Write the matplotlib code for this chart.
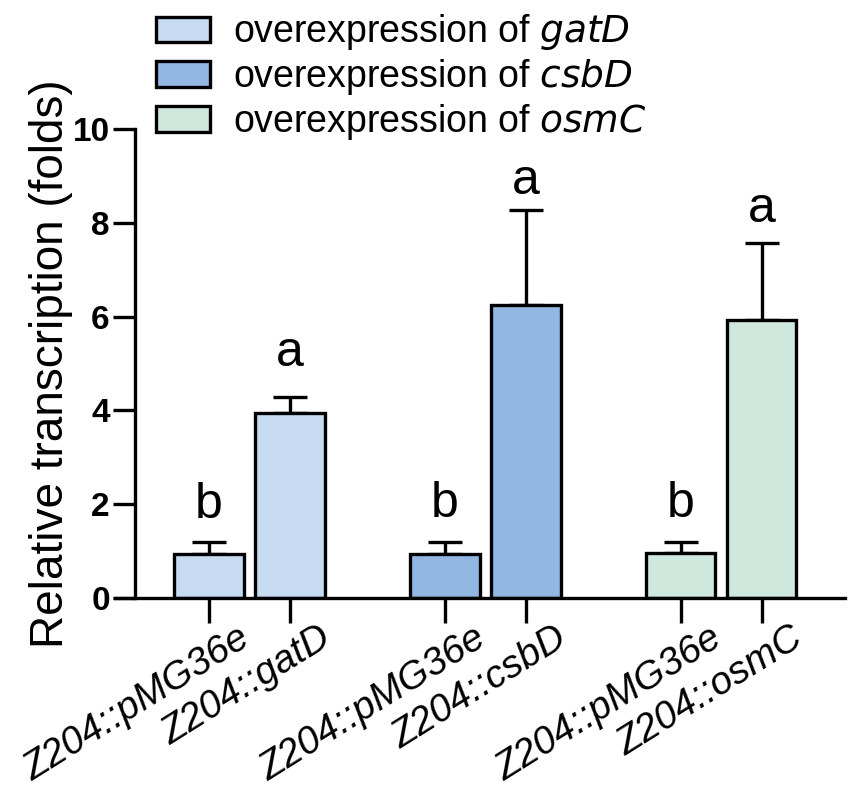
import numpy as np
import matplotlib
matplotlib.use("Agg")
import matplotlib.pyplot as plt
import matplotlib.transforms as mtransforms
from matplotlib.patches import Patch

plt.rcParams['font.family'] = ['Liberation Sans', 'DejaVu Sans']

# data
genes = ['gatD', 'csbD', 'osmC']
labels = ['Z204::pMG36e', 'Z204::gatD', 'Z204::pMG36e', 'Z204::csbD', 'Z204::pMG36e', 'Z204::osmC']
means = [0.95, 3.95, 0.95, 6.25, 0.97, 5.92]
errs = [0.24, 0.34, 0.25, 2.02, 0.23, 1.64]
letters = ['b', 'a', 'b', 'a', 'b', 'a']
letter_y = [1.7, 4.95, 1.72, 8.62, 1.72, 8.02]
colors = ['#c6daf1', '#92b7e3', '#cfe8de']

# layout
pair_gap = 1.0
group_gap = 2.91
xs = []
for g in range(len(genes)):
    xs += [g * group_gap, g * group_gap + pair_gap]
bar_colors = [c for c in colors for _ in range(2)]

fig = plt.figure(figsize=(8.51, 7.89), dpi=100)
ax = fig.add_axes([0.135, 0.242, 0.858, 0.5945])

lw = 2.4
ax.bar(xs, means, width=0.86, color=bar_colors, edgecolor='black', linewidth=lw, zorder=2)
ax.errorbar(xs, means, yerr=[np.zeros(len(errs)), errs], fmt='none', ecolor='black',
            elinewidth=lw, capsize=12, capthick=lw, zorder=1)

for x, y, t in zip(xs, letter_y, letters):
    ax.text(x, y, t, ha='center', va='baseline', fontsize=36)

ax.set_xlim(-1.16, 7.85)
ax.set_ylim(0, 10)
ax.set_yticks([0, 2, 4, 6, 8, 10])
ax.spines['top'].set_visible(False)
ax.spines['right'].set_visible(False)
ax.spines['left'].set_position(('data', -0.914))
ax.spines['left'].set_linewidth(lw)
ax.spines['bottom'].set_linewidth(lw)
ax.tick_params(axis='y', length=16, width=lw, labelsize=24, direction='out', pad=2)
ax.tick_params(axis='x', length=18, width=lw, labelsize=28, direction='out', pad=2)
for t in ax.get_yticklabels():
    t.set_fontweight('bold')

ax.set_xticks(xs)
ax.set_xticklabels(labels, rotation=32, ha='right', rotation_mode='anchor', style='italic')
offset = mtransforms.ScaledTranslation(0.29, 0.06, fig.dpi_scale_trans)
for t in ax.get_xticklabels():
    t.set_transform(t.get_transform() + offset)

ax.set_ylabel('Relative transcription (folds)', fontsize=33)
ax.yaxis.set_label_coords(-0.057, 0.5)

handles = [Patch(facecolor=c, edgecolor='black', linewidth=lw) for c in colors]
leg_labels = ['overexpression of $\\it{' + g + '}$' for g in genes]
fig.legend(handles, leg_labels, loc='upper left', bbox_to_anchor=(0.161, 1.008),
           frameon=False, fontsize=27, handlelength=1.45, handleheight=0.67,
           handletextpad=0.6, labelspacing=0.13, borderaxespad=0.1)

fig.savefig('out.png', dpi=100)
